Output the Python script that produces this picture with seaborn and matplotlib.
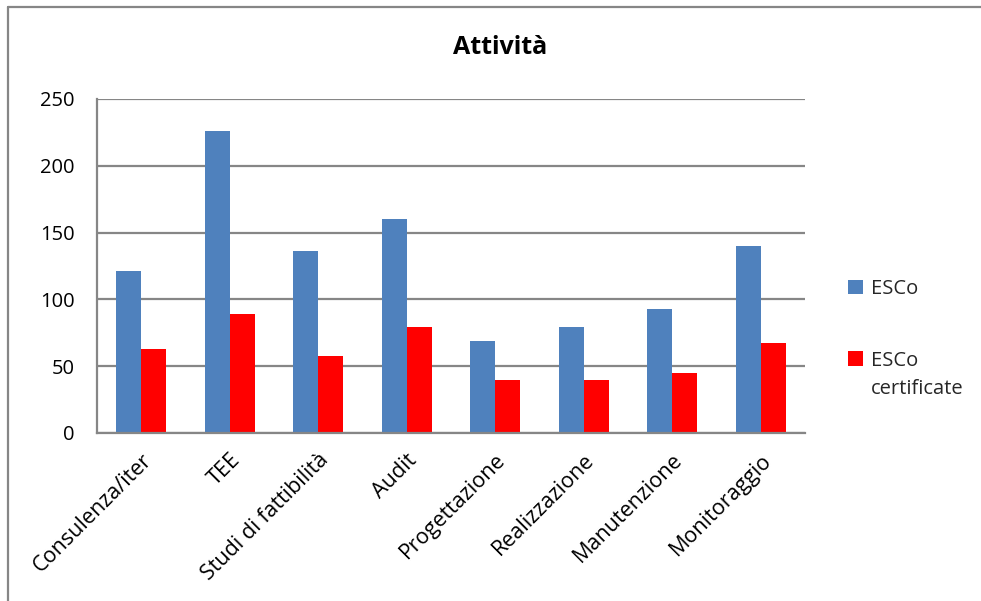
import matplotlib
matplotlib.use("Agg")
import matplotlib.pyplot as plt
from matplotlib.lines import Line2D
from matplotlib.patches import Patch, Rectangle
from matplotlib.legend_handler import HandlerPatch
import seaborn as sns
import pandas as pd

# Activities carried out, counts per group of companies
categories = ["Consulenza/iter", "TEE", "Studi di fattibilità", "Audit",
              "Progettazione", "Realizzazione", "Manutenzione", "Monitoraggio"]
esco = [121, 226, 136, 160, 69, 79, 93, 140]
esco_certificate = [63, 89, 58, 79, 40, 40, 45, 67]
series_names = ["ESCo", "ESCo certificate"]
legend_labels = ["ESCo", "ESCo\ncertificate"]
y_ticks = [0, 50, 100, 150, 200, 250]

df = pd.DataFrame({
    "Attività": categories * 2,
    "Numero": esco + esco_certificate,
    "Gruppo": [series_names[0]] * len(categories) + [series_names[1]] * len(categories),
})

sns.set_theme(style="white")
plt.rcParams["font.family"] = ["Open Sans", "DejaVu Sans"]

grid_color = "#868686"
colors = {"ESCo": "#4F81BD", "ESCo certificate": "#FF0000"}
legend_size = 14.5
legend_linespacing = 1.5

fig = plt.figure(figsize=(9.81, 6.01), dpi=100)
ax = fig.add_axes([97 / 981, 1 - 433 / 601, (805 - 97) / 981, (433 - 99) / 601])

sns.barplot(data=df, x="Attività", y="Numero", hue="Gruppo", palette=colors,
            width=0.565, dodge=True, gap=0, saturation=1, ax=ax,
            edgecolor="none", legend=False)

ax.set_ylim(0, 250)
ax.set_xlim(-0.5, len(categories) - 0.5)
ax.set_yticks(y_ticks)
ax.set_xlabel("")
ax.set_ylabel("")
ax.yaxis.grid(True, color=grid_color, linewidth=1.6)
ax.set_axisbelow(True)
for side in ("top", "right"):
    ax.spines[side].set_visible(False)
for side in ("left", "bottom"):
    ax.spines[side].set_color(grid_color)
    ax.spines[side].set_linewidth(1.6)

ax.tick_params(axis="y", length=0, pad=16, labelsize=14.5, labelcolor="black")
ax.tick_params(axis="x", length=0, pad=12, labelsize=15.5, labelcolor="black")
plt.setp(ax.get_xticklabels(), rotation=45, ha="right", rotation_mode="anchor")

fig.text(500 / 981, 1 - 48 / 601, "Attività", ha="center", va="center",
         fontsize=18, fontweight="bold", color="black")


class FirstLineHandler(HandlerPatch):
    """Square legend key aligned with the first line of a multi-line label."""

    def __init__(self, shift=0.0, **kw):
        super().__init__(**kw)
        self.shift = shift

    def create_artists(self, legend, orig_handle, xdescent, ydescent,
                       width, height, fontsize, trans):
        p = Rectangle((-xdescent, -ydescent + self.shift), width, height,
                      facecolor=orig_handle.get_facecolor(), edgecolor="none",
                      transform=trans)
        return [p]


handles = [Patch(facecolor=colors[s], edgecolor="none") for s in series_names]
handler_map = {
    h: FirstLineHandler(shift=legend_size * legend_linespacing * 0.58 * lab.count("\n"))
    for h, lab in zip(handles, legend_labels)
}
leg = fig.legend(handles, legend_labels, loc="upper left",
                 bbox_to_anchor=(830 / 981, 1 - 261 / 601), frameon=False,
                 fontsize=legend_size, handlelength=0.75, handleheight=0.75,
                 handletextpad=0.4, labelspacing=2.6, handler_map=handler_map)
for t in leg.get_texts():
    t.set_linespacing(legend_linespacing)

# outer chart frame
fig.add_artist(Line2D([8 / 981, 8 / 981], [0, 1 - 7 / 601], transform=fig.transFigure,
                      color=grid_color, linewidth=1.6))
fig.add_artist(Line2D([8 / 981, 1], [1 - 7 / 601, 1 - 7 / 601], transform=fig.transFigure,
                      color=grid_color, linewidth=1.6))

fig.savefig("out.png", dpi=100, facecolor="white")
